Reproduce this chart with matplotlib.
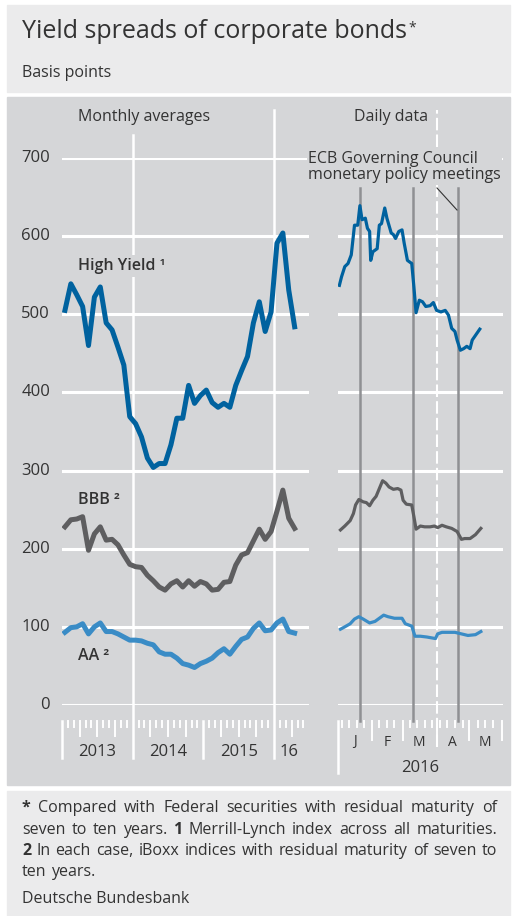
import numpy as np
import matplotlib
matplotlib.use("Agg")
import matplotlib.pyplot as plt
from matplotlib.patches import Rectangle
from matplotlib.lines import Line2D

plt.rcParams['font.family'] = ['Open Sans', 'DejaVu Sans']

##datos mensuales (ene 2013 - abr 2016), puntos basicos##
hy_month = [505, 539, 525, 510, 460, 522, 535, 489, 480, 458, 435, 369, 360, 343, 316, 304,
            309, 309, 333, 367, 367, 409, 386, 396, 403, 387, 381, 386, 381, 409,
            428, 446, 489, 516, 478, 503, 591, 604, 531, 484]
bbb_month = [228, 237, 238, 241, 198, 219, 228, 211, 212, 205, 192, 180, 177, 176, 166, 159,
             151, 147, 155, 159, 151, 159, 152, 158, 155, 147, 148, 157, 158, 179,
             192, 195, 210, 225, 212, 222, 248, 275, 239, 226]
aa_month = [93, 99, 100, 104, 91, 100, 105, 94, 94, 91, 87, 83, 83, 82, 79, 77,
            68, 65, 65, 60, 53, 51, 48, 53, 56, 60, 67, 72, 65, 75,
            84, 87, 98, 105, 95, 96, 105, 110, 94, 92]
year_labels = ["2013", "2014", "2015", "16"]

##datos diarios 2016 (dia 0 = 1 de enero)##
hy_days = [1, 3, 6, 9, 12, 15, 18, 20, 22, 25, 27, 29, 30, 32, 36, 38, 40, 43, 45, 49,
           51, 53, 56, 59, 61, 64, 68, 70, 72, 75, 78, 81, 85, 88, 91, 95, 99, 102,
           105, 108, 110, 113, 116, 119, 122, 124, 128, 131]
hy_daily = [537, 548, 561, 565, 576, 614, 614, 639, 621, 623, 610, 606, 569, 580, 584, 614,
            616, 636, 623, 604, 602, 597, 606, 608, 591, 569, 565, 535, 502, 518, 516,
            510, 511, 515, 505, 503, 505, 499, 482, 478, 467, 454, 456, 459, 456, 467,
            475, 481]
bbb_days = [2, 6, 11, 14, 16, 19, 23, 26, 29, 32, 35, 38, 41, 44, 47, 51, 55, 58, 60, 63,
            68, 70, 72, 76, 80, 85, 89, 92, 96, 100, 105, 110, 114, 117, 122, 127, 132]
bbb_daily = [224, 229, 236, 245, 256, 263, 260, 259, 255, 262, 267, 277, 287, 284, 279, 276,
             277, 275, 262, 257, 256, 241, 225, 229, 228, 228, 229, 227, 230, 228, 226,
             222, 212, 213, 213, 218, 226]
aa_days = [2, 6, 11, 15, 19, 23, 29, 34, 37, 42, 46, 52, 59, 62, 68, 71, 76, 82, 90, 92,
           96, 102, 108, 114, 120, 127, 132]
aa_daily = [97, 100, 104, 110, 113, 110, 105, 107, 110, 115, 113, 111, 111, 104, 101, 88,
            88, 87, 85, 91, 93, 93, 93, 91, 89, 90, 94]
ecb_days = [20, 69, 111]          # 21 ene, 10 mar, 21 abr
month_starts = [31, 60, 91, 121, 152]
month_letters = ["J", "F", "M", "A", "M"]

W, H = 512, 916
fig = plt.figure(figsize=(W / 100, H / 100), dpi=100)

def fx(px):
    return px / W

def fy(py):
    return 1 - py / H

def ay(py):
    # pixel y -> fraccion de ejes
    return (705 - py) / (705 - 158)

bg = "#d5d6d8"
light = "#ebebec"
txt = "#333333"
c_hy = "#00629f"
c_bbb = "#5e5e60"
c_aa = "#3a8cc6"
c_ecb = "#8f9093"

for x0, y0, x1, y1, c in [(7, 5, 510, 92, light), (7, 97, 510, 785, bg), (7, 791, 510, 916, light)]:
    fig.patches.append(Rectangle((fx(x0), fy(y1)), (x1 - x0) / W, (y1 - y0) / H,
                                 transform=fig.transFigure, color=c, zorder=-5))

##titulo##
title = fig.text(fx(22), fy(38.5), "Yield spreads of corporate bonds", fontsize=18, color=txt, va='baseline')
fig.text(fx(22), fy(73), "Basis points", fontsize=11.5, color=txt, va='center')
fig.text(fx(144), fy(117), "Monthly averages", fontsize=11.5, color=txt, ha='center', va='center')
fig.text(fx(391), fy(117), "Daily data", fontsize=11.5, color=txt, ha='center', va='center')

##panel izquierdo##
ax1 = fig.add_axes([fx(62), fy(705), (309 - 62) / W, (705 - 158) / H])
ax1.set_axis_off()
ax1.set_xlim(-0.5, 41.44)
ax1.set_ylim(0, 700)
for v in range(0, 701, 100):
    ax1.axhline(v, color='white', lw=2.2, zorder=1)
    ax1.text(-(62 - 50) / 247, v, str(v), transform=ax1.get_yaxis_transform(),
             ha='right', va='center', fontsize=12, color=txt)

ax1.axvline(11.5, ymin=ay(758), ymax=ay(135), color='white', lw=1.8, clip_on=False, zorder=1)
ax1.axvline(35.5, ymin=ay(758), ymax=ay(110), color='white', lw=1.8, clip_on=False, zorder=1)
for m in range(0, 42):
    b = m - 0.5
    if m % 12 == 0:
        if m in (0, 24):
            ax1.axvline(b, ymin=ay(758), ymax=ay(721), color='white', lw=1.8, clip_on=False)
        continue
    bottom = 736 if m % 3 == 0 else 727
    ax1.axvline(b, ymin=ay(bottom), ymax=ay(721), color='white', lw=1.4, clip_on=False)

for lab, c in zip(year_labels, [5.5, 17.5, 29.5, 38]):
    ax1.text(c, ay(752), lab, transform=ax1.get_xaxis_transform(), ha='center', va='center',
             fontsize=12, color=txt)

months = np.arange(len(hy_month))
ax1.plot(months, hy_month, color=c_hy, lw=3.6, zorder=4, solid_joinstyle='round')
ax1.plot(months, bbb_month, color=c_bbb, lw=3.6, zorder=4, solid_joinstyle='round')
ax1.plot(months, aa_month, color=c_aa, lw=3.6, zorder=4, solid_joinstyle='round')

lab_box = dict(facecolor=bg, edgecolor='none', pad=2)
ax1.text(fx(78), fy(266), "High Yield ¹", transform=fig.transFigure, fontsize=11.5,
         fontweight='semibold', color=txt, va='center', bbox=lab_box, zorder=3)
ax1.text(fx(78), fy(500), "BBB ²", transform=fig.transFigure, fontsize=11.5,
         fontweight='semibold', color=txt, va='center', zorder=3)
ax1.text(fx(78), fy(656), "AA ²", transform=fig.transFigure, fontsize=11.5,
         fontweight='semibold', color=txt, va='center', zorder=3)

##panel derecho##
ax2 = fig.add_axes([fx(338.3), fy(705), (503 - 338.3) / W, (705 - 158) / H])
ax2.set_axis_off()
ax2.set_xlim(0, 152.5)
ax2.set_ylim(0, 700)
for v in range(0, 701, 100):
    ax2.axhline(v, color='white', lw=2.2, zorder=1)

ax2.axvline(91, ymin=ay(747), ymax=ay(110), color='white', lw=1.5, ls=(0, (6, 2)),
            clip_on=False, zorder=1)
for d in ecb_days:
    ax2.axvline(d, ymin=ay(721), ymax=ay(188), color=c_ecb, lw=1.8, clip_on=False, zorder=2)

ax2.axvline(0, ymin=ay(773), ymax=ay(721), color='white', lw=1.8, clip_on=False)
for d in month_starts:
    ax2.axvline(d, ymin=ay(740), ymax=ay(721), color='white', lw=1.4, clip_on=False)
for d in range(3, 152, 7):
    if min(abs(d - s) for s in [0] + month_starts) > 2:
        ax2.axvline(d, ymin=ay(727), ymax=ay(721), color='white', lw=1.4, clip_on=False)

for lab, c in zip(month_letters, [15.5, 45, 75, 105.5, 136]):
    ax2.text(c, ay(742), lab, transform=ax2.get_xaxis_transform(), ha='center', va='center',
             fontsize=10, color=txt)
ax2.text(76, ay(768), "2016", transform=ax2.get_xaxis_transform(), ha='center', va='center',
         fontsize=12, color=txt)

ax2.plot(hy_days, hy_daily, color=c_hy, lw=2.3, zorder=4)
ax2.plot(bbb_days, bbb_daily, color=c_bbb, lw=2.3, zorder=4)
ax2.plot(aa_days, aa_daily, color=c_aa, lw=2.3, zorder=4)

ax2.text(fx(308), fy(167), "ECB Governing Council\nmonetary policy meetings", transform=fig.transFigure,
         fontsize=11.5, color=txt, va='center', ha='left', linespacing=1.05,
         bbox=dict(facecolor=bg, edgecolor='none', pad=1), zorder=3)
fig.add_artist(Line2D([fx(437), fx(457)], [fy(188), fy(210)], color=txt, lw=0.8))

##notas al pie (justificadas)##
renderer = fig.canvas.get_renderer()

def justify(words, y, x0=22, x1=497, size=11.5, full=True):
    objs = [fig.text(0, 0, w, fontsize=size, color=txt, va='center',
                     fontweight='bold' if b else 'normal') for w, b in words]
    widths = [o.get_window_extent(renderer).width for o in objs]
    space = fig.text(0, 0, "a a", fontsize=size).get_window_extent(renderer).width - \
        2 * fig.text(0, 0, "a", fontsize=size).get_window_extent(renderer).width
    gap = (x1 - x0 - sum(widths)) / (len(words) - 1) if full and len(words) > 1 else space
    x = x0
    for o, w in zip(objs, widths):
        o.set_position((fx(x), fy(y)))
        x += w + gap

def split(line, bold_first=False):
    ws = line.split()
    return [(w, bold_first and i == 0) for i, w in enumerate(ws)]

justify(split("* Compared with Federal securities with residual maturity of", True), 808)
l2 = split("seven to ten years. 1 Merrill-Lynch index across all maturities.")
l2 = [(w, w == "1") for w, b in l2]
justify(l2, 829.5)
justify(split("2 In each case, iBoxx indices with residual maturity of seven to", True), 851)
justify(split("ten years."), 872, full=False)
fig.text(fx(22), fy(899), "Deutsche Bundesbank", fontsize=11.5, color=txt, va='center')

##asterisco del titulo##
bb = title.get_window_extent(renderer)
fig.text(bb.x1 / W + 1.5 / W, fy(28), "*", fontsize=10, color=txt, va='center')

# limpiar textos auxiliares de medida
for t in list(fig.texts):
    if t.get_text() in ("a a", "a"):
        t.remove()

fig.savefig("out.png", dpi=100)
